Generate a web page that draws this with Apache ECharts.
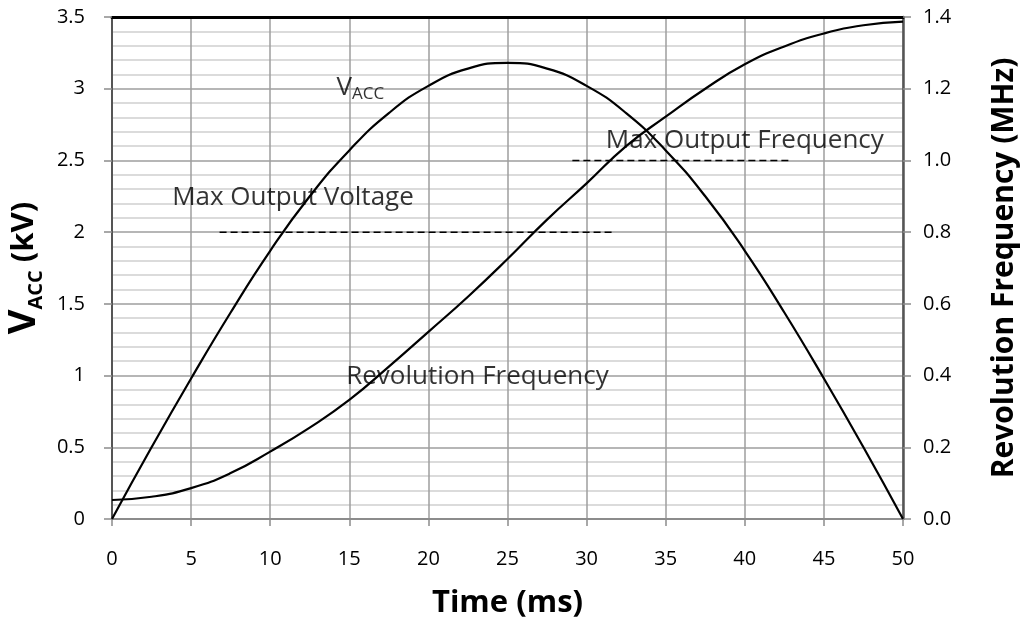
<!DOCTYPE html>
<html>
<head>
<meta charset="utf-8">
<script src="https://cdn.jsdelivr.net/npm/echarts@6/dist/echarts.min.js"></script>
<style>
  html, body { margin: 0; padding: 0; background: #ffffff; }
  #chart { width: 1022px; height: 624px; }
</style>
</head>
<body>
<div id="chart"></div>
<script>
// Time samples (ms)
const timeMs = [0, 2.5, 5, 7.5, 10, 12.5, 15, 17.5, 20, 22.5, 25, 27.5, 30, 32.5, 35, 37.5, 40, 42.5, 45, 47.5, 50];
// Accelerating voltage (kV)
const vAcc = [0, 0.50, 0.98, 1.44, 1.87, 2.25, 2.57, 2.83, 3.02, 3.14, 3.18, 3.14, 3.02, 2.83, 2.57, 2.25, 1.87, 1.44, 0.98, 0.50, 0];
// Revolution frequency (MHz)
const revFreq = [0.053, 0.062, 0.086, 0.128, 0.188, 0.255, 0.332, 0.425, 0.522, 0.62, 0.725, 0.835, 0.936, 1.04, 1.122, 1.20, 1.268, 1.318, 1.354, 1.377, 1.387];
// Limits drawn as dashed reference lines
const maxVoltageKV = 2.0;
const maxVoltageSpan = [6.8, 31.6];
const maxFreqMHz = 1.0;
const maxFreqSpan = [29.1, 43.0];
// Axis tick labels
const xTicks = ['0', '5', '10', '15', '20', '25', '30', '35', '40', '45', '50'];
const leftTicks = ['0', '0.5', '1', '1.5', '2', '2.5', '3', '3.5'];
const rightTicks = ['0.0', '0.2', '0.4', '0.6', '0.8', '1.0', '1.2', '1.4'];

// In-plot annotations, anchored in (ms, kV) coordinates
const notes = [
  { text: '{v|V}{s|ACC}', at: [15.7, 3.01] },
  { text: 'Max Output Voltage', at: [11.44, 2.24] },
  { text: 'Max Output Frequency', at: [40.0, 2.64] },
  { text: 'Revolution Frequency', at: [23.1, 0.99] }
];

const FONT = '"Open Sans"';
const chart = echarts.init(document.getElementById('chart'), null, { renderer: 'canvas' });

const pair = (xs, ys) => xs.map((x, i) => [x, ys[i]]);

chart.setOption({
  animation: false,
  backgroundColor: '#ffffff',
  textStyle: { fontFamily: FONT, color: '#000' },
  grid: { left: 112, right: 119, top: 17, bottom: 105, outerBoundsMode: 'none', containLabel: false },
  xAxis: [{
    type: 'value', min: 0, max: 50, interval: 5,
    name: 'Time (ms)', nameLocation: 'middle', nameGap: 69,
    nameTextStyle: { fontFamily: FONT, fontWeight: 'bold', fontSize: 31, color: '#000' },
    axisLine: { show: true, onZero: false, lineStyle: { color: '#8c8c8c', width: 2 } },
    axisTick: { show: true, inside: false, length: 7, lineStyle: { color: '#8c8c8c', width: 1.5 } },
    axisLabel: { margin: 30, fontFamily: FONT, fontSize: 20, color: '#000',
      formatter: (v) => xTicks[Math.round(v / 5)] },
    splitLine: { show: true, lineStyle: { color: '#9e9e9e', width: 1.5 } }
  }, {
    type: 'value', min: 0, max: 50, position: 'top',
    axisLine: { show: true, onZero: false, lineStyle: { color: '#000', width: 3 } },
    axisTick: { show: false }, axisLabel: { show: false }, splitLine: { show: false }
  }],
  yAxis: [{
    type: 'value', min: 0, max: 3.5, interval: 0.5, position: 'left',
    name: '{v|V}{s|ACC}{k| (kV)}', nameLocation: 'middle', nameRotate: 90, nameGap: 62,
    nameTextStyle: {
      rich: {
        v: { fontFamily: FONT, fontWeight: 'bold', fontSize: 38, lineHeight: 44, verticalAlign: 'middle', color: '#000' },
        s: { fontFamily: FONT, fontWeight: 'bold', fontSize: 20, lineHeight: 22, verticalAlign: 'bottom', color: '#000' },
        k: { fontFamily: FONT, fontWeight: 'bold', fontSize: 31, lineHeight: 44, verticalAlign: 'middle', color: '#000' }
      }
    },
    axisLine: { show: true, onZero: false, lineStyle: { color: '#555', width: 2 } },
    axisTick: { show: true, inside: false, length: 8, lineStyle: { color: '#8c8c8c', width: 1.5 } },
    minorTick: { show: false, splitNumber: 5 },
    minorSplitLine: { show: true, lineStyle: { color: '#cfcfcf', width: 1.5 } },
    axisLabel: { margin: 27, fontFamily: FONT, fontSize: 20, color: '#000',
      formatter: (v) => leftTicks[Math.round(v / 0.5)] },
    splitLine: { show: true, lineStyle: { color: '#9e9e9e', width: 1.5 } }
  }, {
    type: 'value', min: 0, max: 1.4, interval: 0.2, position: 'right',
    name: 'Revolution Frequency (MHz)', nameLocation: 'middle', nameRotate: 90, nameGap: 86,
    nameTextStyle: { fontFamily: FONT, fontWeight: 'bold', fontSize: 30, color: '#000' },
    axisLine: { show: true, onZero: false, lineStyle: { color: '#555', width: 2.5 } },
    axisTick: { show: true, inside: false, length: 8, lineStyle: { color: '#8c8c8c', width: 1.5 } },
    axisLabel: { margin: 20, fontFamily: FONT, fontSize: 20, color: '#000',
      formatter: (v) => rightTicks[Math.round(v / 0.2)] },
    splitLine: { show: false }
  }],
  series: [{
    name: 'VACC', type: 'line', xAxisIndex: 0, yAxisIndex: 0,
    data: pair(timeMs, vAcc), smooth: true, showSymbol: false, symbol: 'none',
    lineStyle: { color: '#000', width: 2.2 }, z: 5
  }, {
    name: 'Revolution Frequency', type: 'line', xAxisIndex: 0, yAxisIndex: 1,
    data: pair(timeMs, revFreq), smooth: true, showSymbol: false, symbol: 'none',
    lineStyle: { color: '#000', width: 2.2 }, z: 5
  }, {
    name: 'Max Output Voltage', type: 'line', xAxisIndex: 0, yAxisIndex: 0,
    data: maxVoltageSpan.map((t) => [t, maxVoltageKV]), showSymbol: false, symbol: 'none',
    lineStyle: { color: '#000', width: 1.5, type: [7, 4] }, z: 4
  }, {
    name: 'Max Output Frequency', type: 'line', xAxisIndex: 0, yAxisIndex: 1,
    data: maxFreqSpan.map((t) => [t, maxFreqMHz]), showSymbol: false, symbol: 'none',
    lineStyle: { color: '#000', width: 1.5, type: [7, 4] }, z: 4
  }, {
    name: 'notes', type: 'scatter', xAxisIndex: 0, yAxisIndex: 0,
    symbolSize: 0, silent: true, z: 6,
    data: notes.map((n) => ({ value: n.at, name: n.text })),
    label: {
      show: true, position: 'inside', formatter: (p) => p.name,
      fontFamily: FONT, fontSize: 26, color: '#000',
      rich: {
        v: { fontFamily: FONT, fontSize: 26, lineHeight: 30, verticalAlign: 'middle', color: '#000' },
        s: { fontFamily: FONT, fontSize: 17, lineHeight: 16, verticalAlign: 'bottom', color: '#000' }
      }
    }
  }]
});
</script>
</body>
</html>
